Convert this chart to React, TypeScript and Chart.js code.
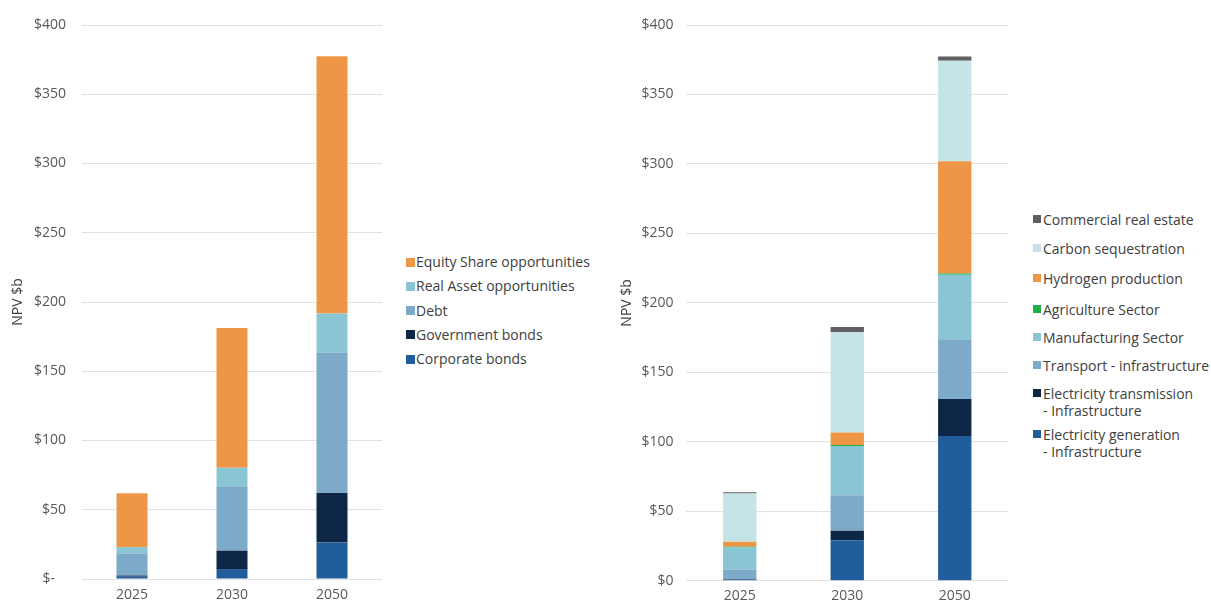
import React, { useEffect, useRef } from 'react';
import { Chart, registerables } from 'chart.js';

Chart.register(...registerables);
Chart.defaults.font.family = "'Open Sans', 'Noto Sans', sans-serif";

// ---------- Data ----------
const years = ['2025', '2030', '2050'];

// Left chart (by instrument)
const corporateBonds = [1.7, 7.2, 26.3];
const governmentBonds = [0.8, 13.3, 35.8];
const debt = [15.9, 46.5, 101.3];
const realAssetOpportunities = [4.6, 13.3, 28.3];
const equityShareOpportunities = [39.0, 101.0, 185.7];

// Right chart (by sector)
const electricityGeneration = [1.0, 29.2, 104.2];
const electricityTransmission = [0.3, 6.9, 26.6];
const transportInfrastructure = [6.6, 25.4, 43.1];
const manufacturingSector = [16.0, 35.5, 46.4];
const agricultureSector = [0.6, 0.8, 0.9];
const hydrogenProduction = [3.6, 9.0, 80.7];
const carbonSequestration = [34.7, 72.0, 72.4];
const commercialRealEstate = [1.0, 3.8, 3.0];

const leftTickLabels = ['$-   ', '$50', '$100', '$150', '$200', '$250', '$300', '$350', '$400'];
const rightTickLabels = ['$0', '$50', '$100', '$150', '$200', '$250', '$300', '$350', '$400'];
const axisTitle = 'NPV $b';

// ---------- Colours ----------
const C_ORANGE = '#ED9646';
const C_TEAL = '#89C5D3';
const C_STEEL = '#7DAAC9';
const C_NAVY = '#0E2747';
const C_BLUE = '#215C9B';
const C_PALE = '#C5E4E8';
const C_GREY = '#606060';
const C_GREEN = '#1FAF4B';

const leftSeries = [
  { label: 'Corporate bonds', data: corporateBonds, color: C_BLUE },
  { label: 'Government bonds', data: governmentBonds, color: C_NAVY },
  { label: 'Debt', data: debt, color: C_STEEL },
  { label: 'Real Asset opportunities', data: realAssetOpportunities, color: C_TEAL },
  { label: 'Equity Share opportunities', data: equityShareOpportunities, color: C_ORANGE },
];

const rightSeries = [
  { label: ['Electricity generation', '- Infrastructure'], data: electricityGeneration, color: C_BLUE },
  { label: ['Electricity transmission', '- Infrastructure'], data: electricityTransmission, color: C_NAVY },
  { label: ['Transport - infrastructure'], data: transportInfrastructure, color: C_STEEL },
  { label: ['Manufacturing Sector'], data: manufacturingSector, color: C_TEAL },
  { label: ['Agriculture Sector'], data: agricultureSector, color: C_GREEN },
  { label: ['Hydrogen production'], data: hydrogenProduction, color: C_ORANGE },
  { label: ['Carbon sequestration'], data: carbonSequestration, color: C_PALE },
  { label: ['Commercial real estate'], data: commercialRealEstate, color: C_GREY },
];

type ChartSpec = {
  series: { label: string | string[]; data: number[]; color: string }[];
  tickLabels: string[];
  yAxisWidth: number;
  titlePad: number;
  tickPad: number;
  padRight: number;
  xPad: number;
};

function buildConfig(spec: ChartSpec): any {
  return {
    type: 'bar',
    data: {
      labels: years,
      datasets: spec.series.map((s) => ({
        label: Array.isArray(s.label) ? s.label.join(' ') : s.label,
        data: s.data,
        backgroundColor: s.color,
        borderWidth: 0,
        barPercentage: 0.31,
        categoryPercentage: 1,
      })),
    },
    options: {
      responsive: false,
      maintainAspectRatio: false,
      animation: false,
      devicePixelRatio: 1,
      layout: { padding: { top: 25, left: 0, right: spec.padRight, bottom: 0 } },
      plugins: { legend: { display: false }, tooltip: { enabled: false } },
      scales: {
        x: {
          stacked: true,
          grid: { display: false, drawTicks: false },
          border: { display: false },
          ticks: { color: '#595959', font: { size: 14 }, padding: spec.xPad },
        },
        y: {
          stacked: true,
          min: 0,
          max: 400,
          grid: { color: '#E2E2E2', lineWidth: 1, drawTicks: false },
          border: { display: false },
          ticks: {
            stepSize: 50,
            color: '#595959',
            font: { size: 14 },
            padding: spec.tickPad,
            callback: (v: number) => spec.tickLabels[Math.round(v / 50)],
          },
          title: {
            display: true,
            text: axisTitle,
            color: '#404040',
            font: { size: 14 },
            padding: { top: spec.titlePad, bottom: 0 },
          },
          afterFit: (scale: any) => {
            scale.width = spec.yAxisWidth;
          },
        },
      },
    },
  };
}

function BarChart(props: { spec: ChartSpec; left: number; width: number; height: number }) {
  const ref = useRef<HTMLCanvasElement | null>(null);
  useEffect(() => {
    if (!ref.current) return;
    const chart = new Chart(ref.current, buildConfig(props.spec));
    return () => chart.destroy();
  }, []);
  return (
    <canvas
      ref={ref}
      width={props.width}
      height={props.height}
      style={{ position: 'absolute', left: props.left, top: 0, width: props.width, height: props.height }}
    />
  );
}

const leftLegendTops = [262, 286.25, 310.5, 334.75, 359];
const rightLegendTops = [219, 248, 278, 309, 337, 365, 393, 434];

export default function App() {
  const leftLegend = [...leftSeries].reverse();
  const rightLegend = [...rightSeries].reverse();
  return (
    <div
      style={{
        position: 'fixed',
        left: 0,
        top: 0,
        width: 1211,
        height: 601,
        overflow: 'hidden',
        background: '#fff',
        fontFamily: "'Open Sans', sans-serif",
      }}
    >
      <BarChart
        spec={{ series: leftSeries, tickLabels: leftTickLabels, yAxisWidth: 82, titlePad: 9.5, tickPad: 16, padRight: 18, xPad: 7.6 }}
        left={0}
        width={400}
        height={611}
      />
      <BarChart
        spec={{ series: rightSeries, tickLabels: rightTickLabels, yAxisWidth: 81, titlePad: 14, tickPad: 12.5, padRight: 16.5, xPad: 7.2 }}
        left={605}
        width={420}
        height={612}
      />
      {leftLegend.map((s, i) => (
        <div
          key={'l' + i}
          style={{
            position: 'absolute',
            left: 406,
            top: leftLegendTops[i] - 9,
            height: 18,
            lineHeight: '18px',
            fontSize: 14,
            color: '#404040',
            whiteSpace: 'nowrap',
            display: 'flex',
            alignItems: 'center',
          }}
        >
          <span style={{ display: 'inline-block', width: 9, height: 9, background: s.color, marginRight: 1 }} />
          <span>{s.label as string}</span>
        </div>
      ))}
      {rightLegend.map((s, i) => {
        const lines = s.label as string[];
        return (
          <div
            key={'r' + i}
            style={{
              position: 'absolute',
              left: 1033,
              top: rightLegendTops[i] - 8.5,
              fontSize: 14,
              lineHeight: '17px',
              color: '#404040',
              whiteSpace: 'nowrap',
              display: 'flex',
              alignItems: 'flex-start',
            }}
          >
            <span
              style={{ display: 'inline-block', width: 8, height: 8, background: s.color, marginTop: 4.5, marginRight: 2, flex: 'none' }}
            />
            <span>
              {lines.map((ln, j) => (
                <div key={j}>{ln}</div>
              ))}
            </span>
          </div>
        );
      })}
    </div>
  );
}
